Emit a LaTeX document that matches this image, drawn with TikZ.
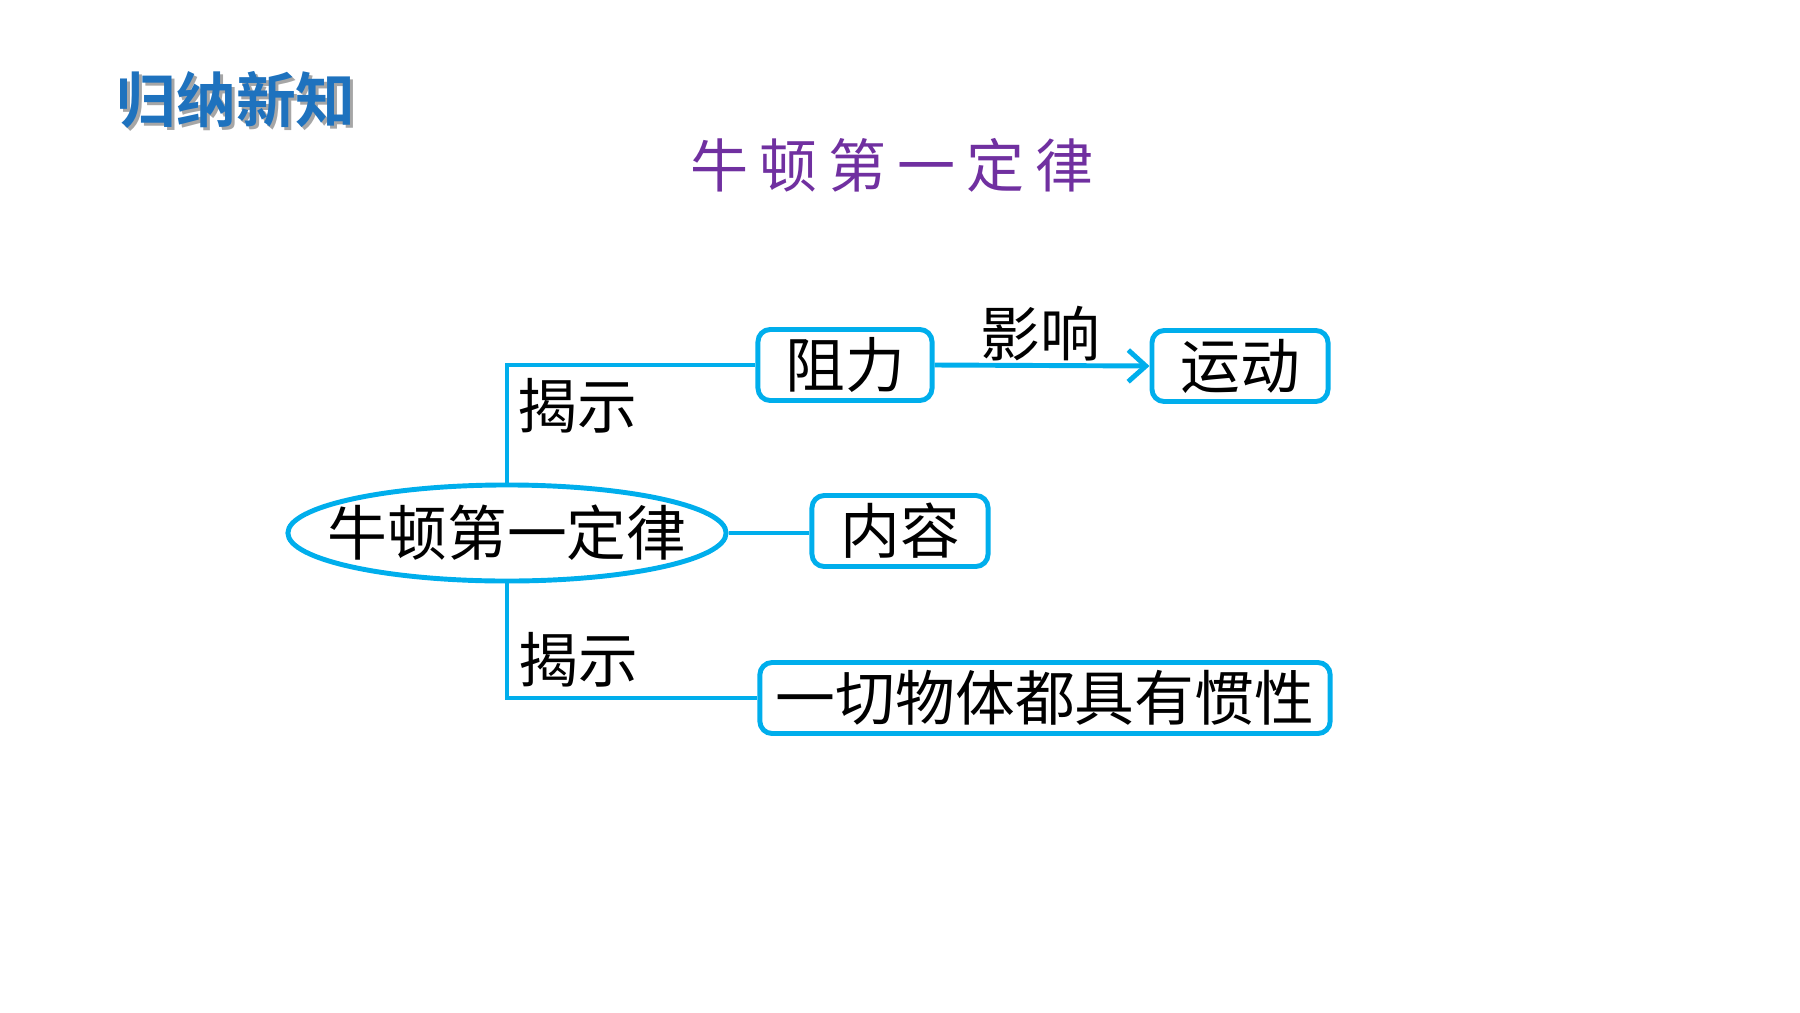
\documentclass[tikz,border=0pt]{standalone}
\usepackage{fontspec}
\usetikzlibrary{arrows.meta,shapes.geometric}
\newfontfamily\cjk{Noto Sans CJK SC}
\newfontfamily\cjkbf{Noto Sans CJK SC Bold}
\definecolor{linkcyan}{RGB}{0,174,236}
\definecolor{headblue}{RGB}{30,114,190}
\definecolor{titlepurple}{RGB}{112,48,160}
\tikzset{
  link/.style={draw=linkcyan,line width=1.4pt},
  box/.style={draw=linkcyan,line width=1.4pt,rounded corners=3.5pt,fill=white,
    minimum height=0.71cm,inner sep=0pt,font=\cjk\fontsize{17}{17}\selectfont},
  lbl/.style={inner sep=0pt,font=\cjk\fontsize{17}{17}\selectfont}
}
\begin{document}
\begin{tikzpicture}[>={Straight Barb[length=5pt,width=9pt,line width=1.4pt]},x=0.01cm,y=-0.01cm]
                \useasboundingbox (0,0) rectangle (1800,1012);

                % heading and title
                \node[inner sep=0pt,text=black!35,font=\cjkbf\fontsize{17}{17}\selectfont] (headshadow) at(239,103) {归纳新知};
                \node[inner sep=0pt,text=headblue,font=\cjkbf\fontsize{17}{17}\selectfont] (head) at(236,100) {归纳新知};
                \node[inner sep=0pt,text=titlepurple,font=\cjk\fontsize{16.5}{16.5}\selectfont\addfontfeature{LetterSpace=19}] (title) at(892,165) {牛顿第一定律};

                % centre
                \node[ellipse,draw=linkcyan,line width=1.4pt,minimum width=4.38cm,minimum height=0.96cm,inner sep=0pt] (law) at(507,533) {};
                \node[lbl] (lawtext) at(law) {牛顿第一定律};

                % boxes
                \node[box,minimum width=1.74cm] (resist) at(845,365) {阻力};
                \node[box,minimum width=1.76cm] (motion) at(1240,366) {运动};
                \node[box,minimum width=1.76cm] (content) at(900,531) {内容};
                \node[box,minimum width=5.70cm] (inertia) at(1045,698) {一切物体都具有惯性};

                % connectors
                \draw[link] (law.north) |- (resist.west);
                \draw[link] (law.south) |- (inertia.west);
                \draw[link] (law.east) -- (law.east -| content.west);
                \draw[link,->] (resist.east) -- (motion.west);

                \node[lbl] (affect) at(1040,334) {影响};
                \node[lbl] (revealup) at(577,406) {揭示};
                \node[lbl] (revealdown) at(578,660) {揭示};
            \end{tikzpicture}
\end{document}
